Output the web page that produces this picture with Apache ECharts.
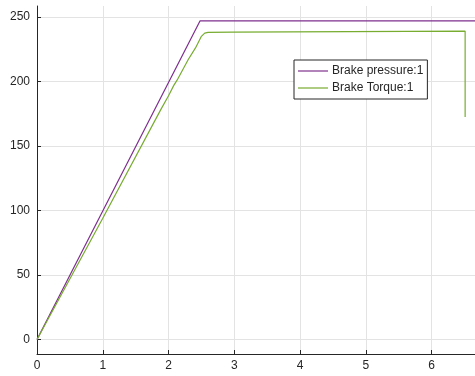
<!DOCTYPE html>
<html>
<head>
<meta charset="utf-8">
<script src="https://cdn.jsdelivr.net/npm/echarts@6/dist/echarts.min.js"></script>
<style>
  html, body { margin: 0; padding: 0; background: #fff; }
  #chart { width: 475px; height: 376px; }
</style>
</head>
<body>
<div id="chart"></div>
<script>
// time (s) / value pairs
var pressureT = [0, 2.48, 6.7]
var pressureV = [0, 247, 247]

var torqueT = [0, 1, 1.88, 2.0, 2.08, 2.13, 2.3, 2.41, 2.5, 2.55, 2.6, 2.97, 3.0, 6.51, 6.51]
var torqueV = [0, 94, 178, 189, 197, 201, 217, 226, 235, 237.5, 238, 238.2, 239, 239, 172.5]

var xTicks = [0, 1, 2, 3, 4, 5, 6]
var yTicks = [0, 50, 100, 150, 200, 250]

var seriesNames = ['Brake pressure:1', 'Brake Torque:1']

function pairs(t, v) {
  return t.map(function (x, i) { return [x, v[i]] })
}

var axisColor = '#262626'
var gridColor = '#e3e3e3'

var chart = echarts.init(document.getElementById('chart'), null, { renderer: 'canvas' })
chart.setOption({
  animation: false,
  backgroundColor: '#fff',
  textStyle: { fontFamily: 'Liberation Sans, Arial, sans-serif' },
  grid: { left: 37, right: 0, top: 6, bottom: 22 },
  legend: {
    data: seriesNames,
    orient: 'vertical',
    left: 294,
    top: 60,
    icon: 'rect',
    itemWidth: 30,
    itemHeight: 1.2,
    itemGap: 3,
    padding: [4, 4, 4, 4],
    backgroundColor: '#fff',
    borderColor: axisColor,
    borderWidth: 1,
    borderRadius: 0,
    textStyle: { fontSize: 12, color: '#262626', lineHeight: 14, padding: [0, 0, 0, -1] }
  },
  xAxis: {
    type: 'value',
    min: 0,
    max: 6.66,
    axisLine: { show: true, onZero: false, lineStyle: { color: axisColor, width: 1 } },
    axisTick: { show: true, inside: true, length: 4, customValues: xTicks, lineStyle: { color: axisColor } },
    axisLabel: { customValues: xTicks, color: '#262626', fontSize: 12, margin: 6 },
    splitLine: { show: true, lineStyle: { color: gridColor, width: 1 } }
  },
  yAxis: {
    type: 'value',
    min: -11.2,
    max: 258.5,
    axisLine: { show: true, onZero: false, lineStyle: { color: axisColor, width: 1 } },
    axisTick: { show: true, inside: true, length: 4, customValues: yTicks, lineStyle: { color: axisColor } },
    axisLabel: { customValues: yTicks, color: '#262626', fontSize: 12, margin: 7 },
    splitLine: { show: true, lineStyle: { color: gridColor, width: 1 } }
  },
  series: [
    {
      name: seriesNames[0],
      type: 'line',
      data: pairs(pressureT, pressureV),
      symbol: 'none',
      lineStyle: { color: '#7e2f8e', width: 1.2 },
      itemStyle: { color: '#7e2f8e' }
    },
    {
      name: seriesNames[1],
      type: 'line',
      data: pairs(torqueT, torqueV),
      symbol: 'none',
      lineStyle: { color: '#77ac30', width: 1.2 },
      itemStyle: { color: '#77ac30' }
    }
  ]
})
</script>
</body>
</html>
